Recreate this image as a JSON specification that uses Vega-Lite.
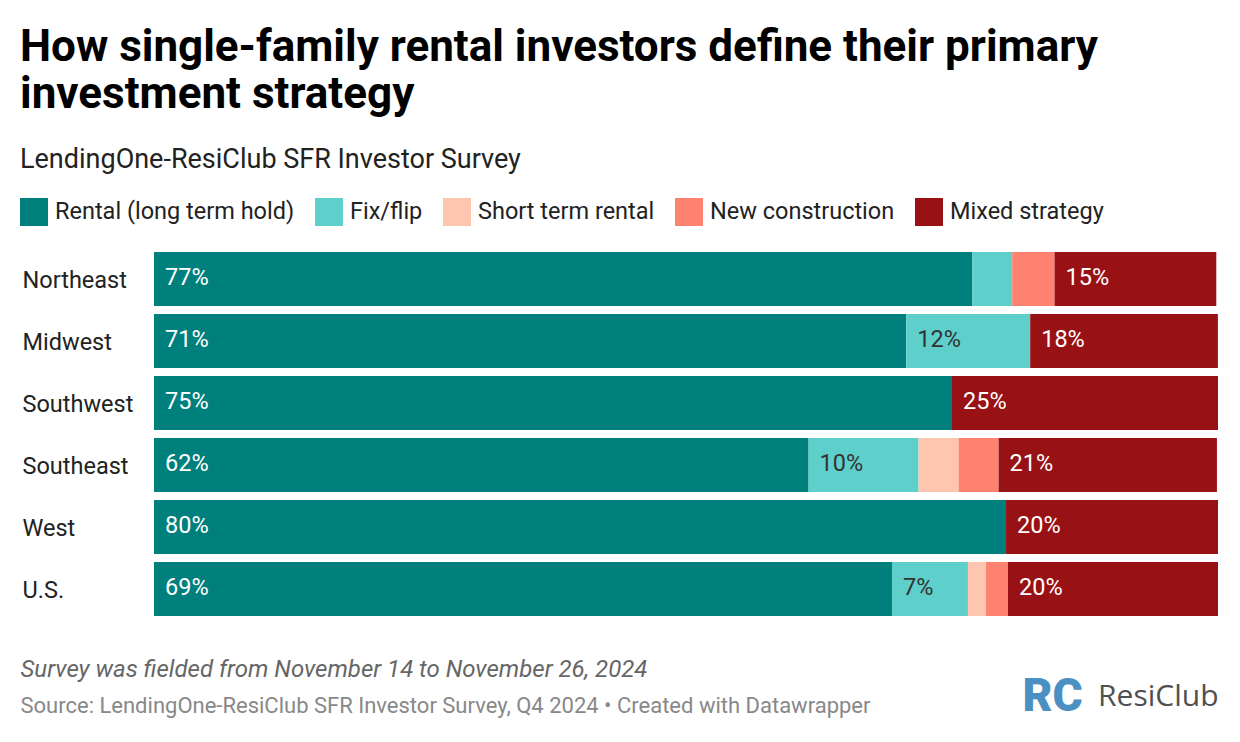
{
  "$schema": "https://vega.github.io/schema/vega-lite/v6.json",
  "width": 1064,
  "height": 372,
  "autosize": {"type": "none"},
  "padding": {"left": 154, "top": 248, "right": 22, "bottom": 122},
  "background": "white",
  "config": {"font": "Roboto", "view": {"stroke": null}},
  "title": {
    "text": ["How single-family rental investors define their primary", "investment strategy"],
    "subtitle": "LendingOne-ResiClub SFR Investor Survey",
    "anchor": "start",
    "frame": "group",
    "dx": -134,
    "fontSize": 44,
    "fontWeight": "bold",
    "color": "#000000",
    "lineHeight": 47,
    "subtitleFontSize": 27,
    "subtitleColor": "#222222",
    "subtitlePadding": 30,
    "offset": 25
  },
  "data": {
    "values": [
      {"region": "Northeast", "strategy": "Rental (long term hold)", "k": 1, "value": 0.769},
      {"region": "Northeast", "strategy": "Fix/flip", "k": 2, "value": 0.0376},
      {"region": "Northeast", "strategy": "New construction", "k": 4, "value": 0.0398},
      {"region": "Northeast", "strategy": "Mixed strategy", "k": 5, "value": 0.152},
      {"region": "Midwest", "strategy": "Rental (long term hold)", "k": 1, "value": 0.707},
      {"region": "Midwest", "strategy": "Fix/flip", "k": 2, "value": 0.1165},
      {"region": "Midwest", "strategy": "Mixed strategy", "k": 5, "value": 0.1764},
      {"region": "Southwest", "strategy": "Rental (long term hold)", "k": 1, "value": 0.75},
      {"region": "Southwest", "strategy": "Mixed strategy", "k": 5, "value": 0.25},
      {"region": "Southeast", "strategy": "Rental (long term hold)", "k": 1, "value": 0.6152},
      {"region": "Southeast", "strategy": "Fix/flip", "k": 2, "value": 0.1034},
      {"region": "Southeast", "strategy": "Short term rental", "k": 3, "value": 0.0376},
      {"region": "Southeast", "strategy": "New construction", "k": 4, "value": 0.0376},
      {"region": "Southeast", "strategy": "Mixed strategy", "k": 5, "value": 0.2052},
      {"region": "West", "strategy": "Rental (long term hold)", "k": 1, "value": 0.8008},
      {"region": "West", "strategy": "Mixed strategy", "k": 5, "value": 0.1992},
      {"region": "U.S.", "strategy": "Rental (long term hold)", "k": 1, "value": 0.6936},
      {"region": "U.S.", "strategy": "Fix/flip", "k": 2, "value": 0.0714},
      {"region": "U.S.", "strategy": "Short term rental", "k": 3, "value": 0.0169},
      {"region": "U.S.", "strategy": "New construction", "k": 4, "value": 0.0207},
      {"region": "U.S.", "strategy": "Mixed strategy", "k": 5, "value": 0.1974}
    ]
  },
  "transform": [
    {"stack": "value", "groupby": ["region"], "sort": [{"field": "k", "order": "ascending"}], "as": ["x0", "x1"]}
  ],
  "encoding": {
    "y": {
      "field": "region",
      "type": "nominal",
      "sort": ["Northeast", "Midwest", "Southwest", "Southeast", "West", "U.S."],
      "scale": {"paddingInner": 0.129, "paddingOuter": 0.0645},
      "axis": {
        "title": "Source: LendingOne-ResiClub SFR Investor Survey, Q4 2024 • Created with Datawrapper",
        "titleX": -134,
        "titleY": 464,
        "titleAngle": 0,
        "titleAlign": "left",
        "titleBaseline": "alphabetic",
        "titleFontSize": 22,
        "titleFontWeight": "normal",
        "titleColor": "#888888",
        "labelAlign": "left",
        "labelBaseline": "middle",
        "labelPadding": 132,
        "labelOffset": 1.5,
        "labelFontSize": 23.5,
        "labelColor": "#222222",
        "ticks": false,
        "tickSize": 0,
        "domain": false,
        "grid": false
      }
    }
  },
  "layer": [
    {
      "mark": {"type": "bar"},
      "encoding": {
        "x": {
          "field": "x0",
          "type": "quantitative",
          "scale": {"domain": [0, 1], "nice": false},
          "axis": {
            "orient": "bottom",
            "values": [0.844, 1],
            "labelExpr": "datum.value < 0.9 ? 'RC' : 'ResiClub'",
            "labelAlign": {"condition": {"test": "datum.value < 0.9", "value": "center"}, "value": "right"},
            "labelColor": {"condition": {"test": "datum.value < 0.9", "value": "#4a90c2"}, "value": "#505050"},
            "labelFontSize": {"condition": {"test": "datum.value < 0.9", "value": 46}, "value": 30},
            "labelFontWeight": {"condition": {"test": "datum.value < 0.9", "value": 900}, "value": "normal"},
            "labelFont": {"condition": {"test": "datum.value < 0.9", "value": "Roboto"}, "value": "Open Sans"},
            "labelBaseline": "middle",
            "labelPadding": 76,
            "labelOverlap": false,
            "labelBound": false,
            "labelFlush": false,
            "ticks": false,
            "tickSize": 0,
            "domain": false,
            "grid": false,
            "title": "Survey was fielded from November 14 to November 26, 2024",
            "titleX": -134,
            "titleY": 56,
            "titleAlign": "left",
            "titleBaseline": "alphabetic",
            "titleFontStyle": "italic",
            "titleFontWeight": "normal",
            "titleFontSize": 24,
            "titleColor": "#666666"
          }
        },
        "x2": {"field": "x1"},
        "color": {
          "field": "strategy",
          "type": "nominal",
          "scale": {
            "domain": ["Rental (long term hold)", "Fix/flip", "Short term rental", "New construction", "Mixed strategy"],
            "range": ["#00807c", "#5ecfca", "#ffc6af", "#ff8270", "#981114"]
          },
          "legend": {
            "orient": "none",
            "legendX": -134,
            "legendY": -50,
            "direction": "horizontal",
            "title": null,
            "symbolType": "square",
            "symbolSize": 784,
            "symbolStrokeWidth": 0,
            "symbolOpacity": 1,
            "labelFontSize": 23.5,
            "labelColor": "#222222",
            "labelOffset": 7,
            "columnPadding": 20,
            "labelLimit": 400
          }
        }
      }
    },
    {
      "transform": [{"filter": "datum.value >= 0.06"}],
      "mark": {"type": "text", "align": "left", "baseline": "middle", "dx": 11, "dy": -1, "fontSize": 23.5},
      "encoding": {
        "x": {"field": "x0", "type": "quantitative"},
        "text": {"field": "value", "type": "quantitative", "format": ".0%"},
        "color": {"condition": {"test": "datum.strategy === 'Fix/flip'", "value": "#333333"}, "value": "#ffffff"}
      }
    }
  ]
}
